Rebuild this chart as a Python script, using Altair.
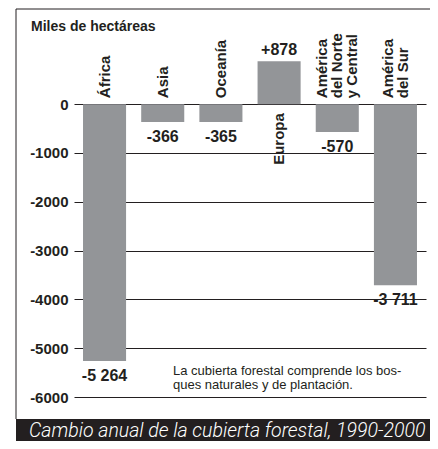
import altair as alt
import pandas as pd

regions = ["África", "Asia", "Oceanía", "Europa", "América del Norte y Central", "América del Sur"]
region_lines = [["África"], ["Asia"], ["Oceanía"], ["Europa"],
                ["América", "del Norte", "y Central"], ["América", "del Sur"]]
values = [-5264, -366, -365, 878, -570, -3711]
value_labels = ["-5 264", "-366", "-365", "+878", "-570", "-3 711"]
y_ticks = [0, -1000, -2000, -3000, -4000, -5000, -6000]
y_title = "Miles de hectáreas"
note_lines = ["La cubierta forestal comprende los bos-", "ques naturales y de plantación."]
footer = "Cambio anual de la cubierta forestal, 1990-2000"

df = pd.DataFrame({"region": regions, "lines": region_lines, "value": values, "vlabel": value_labels})
df["zero"] = 0
df["nlines"] = [len(l) for l in region_lines]

FONT = "Liberation Sans"
INK = "#231f20"
BAR = "#939598"
LH = 15

xenc = alt.X("region:N", sort=regions, axis=None,
             scale=alt.Scale(paddingInner=0.26, paddingOuter=0.155))
yscale = alt.Scale(domain=[-6000, 1950], nice=False)

base = alt.Chart(df)

bars = base.mark_bar(color=BAR).encode(
    x=xenc,
    y=alt.Y("value:Q", scale=yscale,
            axis=alt.Axis(values=y_ticks, grid=True, gridColor=INK, gridWidth=1, gridOpacity=1,
                          domain=False, ticks=False, labelPadding=6, labelFont=FONT,
                          labelFontSize=15, labelFontWeight="bold", labelColor=INK,
                          title=None, labelExpr="'' + datum.value")),
    y2="zero:Q",
)


def cat_layer(sign_expr, n, align, dx):
    return base.transform_filter(f"{sign_expr} && datum.nlines == {n}").mark_text(
        angle=270, align=align, baseline="middle", dx=dx, dy=-(n - 1) * LH / 2,
        font=FONT, fontSize=15, fontWeight="bold", color=INK, lineHeight=LH
    ).encode(x=xenc, y=alt.Y("zero:Q", scale=yscale), text=alt.Text("lines:N"))


cat_layers = [cat_layer("datum.value < 0", n, "left", 6) for n in (1, 2, 3)]
cat_layers.append(cat_layer("datum.value >= 0", 1, "right", -9))

val_neg = base.transform_filter("datum.value < 0").mark_text(
    baseline="middle", dy=15, font=FONT, fontSize=16, fontWeight="bold", color=INK
).encode(x=xenc, y=alt.Y("value:Q", scale=yscale), text="vlabel:N")

val_pos = base.transform_filter("datum.value >= 0").mark_text(
    baseline="middle", dy=-11, font=FONT, fontSize=16, fontWeight="bold", color=INK
).encode(x=xenc, y=alt.Y("value:Q", scale=yscale), text="vlabel:N")

one = pd.DataFrame({"k": [0]})

frame_left = alt.Chart(one).mark_rule(color=INK, strokeWidth=1).encode(
    x=alt.value(-58), y=alt.value(0), y2=alt.value(410))
frame_top = alt.Chart(one).mark_rule(color=INK, strokeWidth=1).encode(
    x=alt.value(-58), x2=alt.value(356), y=alt.value(0))
band = alt.Chart(one).mark_rect(color=INK).encode(
    x=alt.value(-58), x2=alt.value(356), y=alt.value(410), y2=alt.value(432))

title_t = alt.Chart(pd.DataFrame({"t": [y_title]})).mark_text(
    align="left", baseline="alphabetic", font=FONT, fontSize=14, fontWeight="bold", color=INK
).encode(x=alt.value(-43), y=alt.value(21.5), text="t:N")

note_t = alt.Chart(pd.DataFrame({"t": [note_lines]})).mark_text(
    align="left", baseline="alphabetic", font=FONT, fontSize=13, color=INK, lineHeight=14
).encode(x=alt.value(99), y=alt.value(366), text=alt.Text("t:N"))

footer_t = alt.Chart(pd.DataFrame({"t": [footer]})).mark_text(
    align="left", baseline="alphabetic", font="Roboto", fontSize=19.5, fontStyle="italic",
    fontWeight=300, color="white"
).encode(x=alt.value(-45), y=alt.value(428), text="t:N")

chart = alt.layer(
    band, frame_left, frame_top, bars, *cat_layers, val_neg, val_pos,
    title_t, note_t, footer_t
).properties(
    width=352, height=388,
    padding={"left": 66, "top": 1, "right": 4, "bottom": 44},
    autosize="none",
    background="white",
).configure_view(stroke=None)

chart.save("out.html", embed_options={"renderer": "svg", "actions": False})
